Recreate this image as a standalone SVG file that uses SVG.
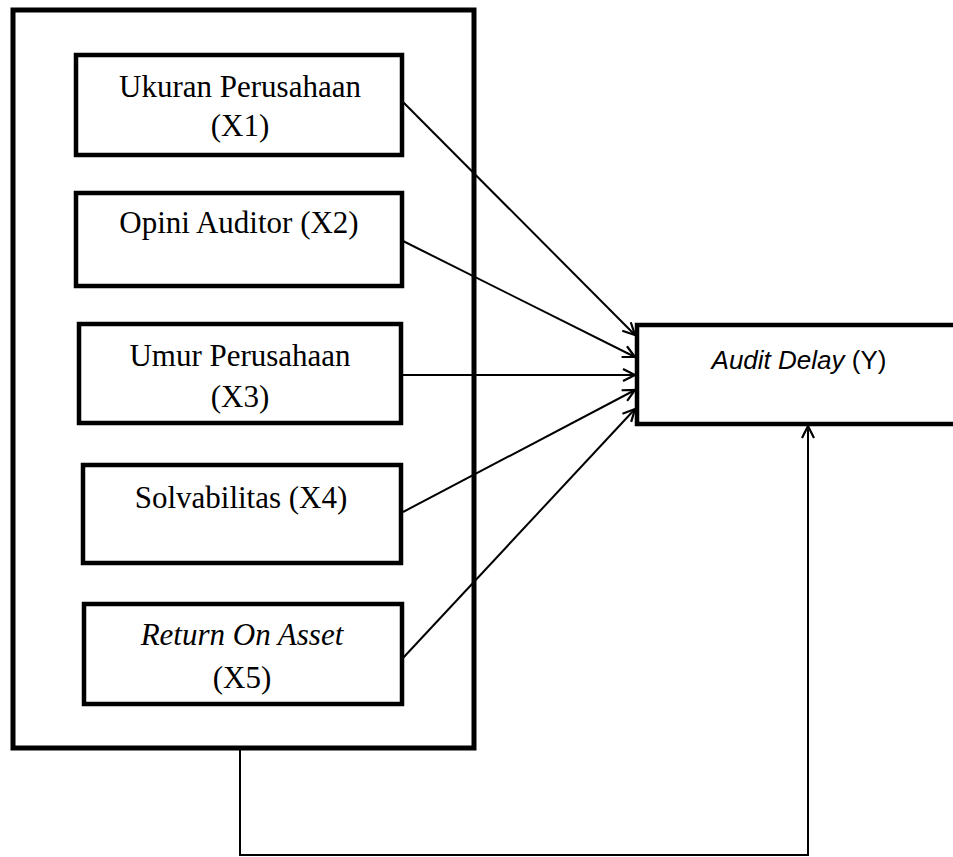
<svg xmlns="http://www.w3.org/2000/svg" width="953" height="857" viewBox="0 0 953 857">
<style>
.box{fill:#fff;stroke:#000;stroke-width:4.5}
.outer{fill:#fff;stroke:#000;stroke-width:5}
.t{font-family:"Liberation Serif","Times New Roman",serif;font-size:31px;fill:#000;text-anchor:middle}
.s{font-family:"Liberation Sans",Arial,sans-serif;font-size:26px;fill:#000;text-anchor:middle}
.c{fill:none;stroke:#000;stroke-width:2}
</style>
<defs>
<marker id="ah" markerUnits="userSpaceOnUse" markerWidth="20" markerHeight="20" refX="13" refY="7" orient="auto">
<path d="M1,1 L13,7 L1,13" fill="none" stroke="#000" stroke-width="2.2"/>
</marker>
</defs>
<rect id="outer" class="outer" x="13" y="10" width="461" height="738"/>
<g id="x1"><rect class="box" x="76" y="55" width="326" height="100"/><text class="t" x="240" y="97">Ukuran Perusahaan</text><text class="t" x="240" y="136">(X1)</text></g>
<g id="x2"><rect class="box" x="76" y="193" width="326" height="93"/><text class="t" x="239" y="233">Opini Auditor (X2)</text></g>
<g id="x3"><rect class="box" x="79" y="324" width="322" height="99"/><text class="t" x="240" y="366">Umur Perusahaan</text><text class="t" x="240" y="407">(X3)</text></g>
<g id="x4"><rect class="box" x="83" y="465" width="318" height="98"/><text class="t" x="241" y="508">Solvabilitas (X4)</text></g>
<g id="x5"><rect class="box" x="84" y="604" width="318" height="100"/><text class="t" x="242" y="645" font-style="italic">Return On Asset</text><text class="t" x="242" y="688">(X5)</text></g>
<g id="y"><rect class="box" x="637" y="325" width="330" height="99"/><text class="s" x="799" y="369"><tspan font-style="italic">Audit Delay</tspan> (Y)</text></g>
<g id="connectors">
<line class="c" x1="403" y1="102" x2="635" y2="335" marker-end="url(#ah)"/>
<line class="c" x1="403" y1="241" x2="635" y2="357" marker-end="url(#ah)"/>
<line class="c" x1="403" y1="375" x2="635" y2="375" marker-end="url(#ah)"/>
<line class="c" x1="403" y1="512" x2="635" y2="390" marker-end="url(#ah)"/>
<line class="c" x1="403" y1="658" x2="635" y2="409" marker-end="url(#ah)"/>
<polyline class="c" points="240,750 240,855 808,855 808,426" marker-end="url(#ah)"/>
</g>
</svg>
